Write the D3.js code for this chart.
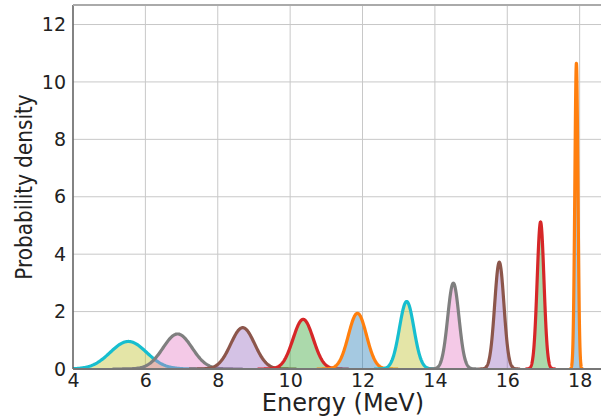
<!DOCTYPE html>
<html>
<head>
<meta charset="utf-8">
<script src="https://cdn.jsdelivr.net/npm/d3@7"></script>
<style>
  body { margin: 0; background: #fff; }
  text { font-family: "DejaVu Sans", sans-serif; fill: #222; }
</style>
</head>
<body>
<div id="chart"></div>
<script>
// peak centres (MeV), peak heights, widths and colours
var peakEnergy = [5.53, 6.89, 8.69, 10.36, 11.86, 13.22, 14.51, 15.78, 16.92, 17.91];
var peakHeight = [0.96, 1.22, 1.44, 1.73, 1.94, 2.35, 2.99, 3.72, 5.12, 10.65];
var peakWidth = [0.50, 0.40, 0.33, 0.28, 0.25, 0.20, 0.155, 0.128, 0.094, 0.043];
var lineColors = ["#17becf", "#7f7f7f", "#8c564b", "#d62728", "#ff7f0e",
                  "#17becf", "#7f7f7f", "#8c564b", "#d62728", "#ff7f0e"];
var fillColors = ["#bcbd22", "#e377c2", "#9467bd", "#2ca02c", "#1f77b4",
                  "#bcbd22", "#e377c2", "#9467bd", "#2ca02c", "#1f77b4"];
var xTicks = [4, 6, 8, 10, 12, 14, 16, 18];
var yTicks = [0, 2, 4, 6, 8, 10, 12];

var width = 601, height = 417;
var margin = { top: 5, right: 0, bottom: 48, left: 73 };

var x = d3.scaleLinear().domain([4, 18.59]).range([margin.left, width - margin.right]);
var y = d3.scaleLinear().domain([0, 12.68]).range([height - margin.bottom, margin.top]);

var svg = d3.select("#chart")
    .append("svg")
    .attr("width", width)
    .attr("height", height);

svg.append("defs").append("clipPath")
    .attr("id", "plot")
    .append("rect")
    .attr("x", margin.left)
    .attr("y", margin.top)
    .attr("width", width - margin.left - margin.right)
    .attr("height", height - margin.top - margin.bottom);

// grid
svg.append("g")
    .selectAll("line")
    .data(xTicks)
    .enter()
    .append("line")
    .attr("x1", function (d) { return x(d); })
    .attr("x2", function (d) { return x(d); })
    .attr("y1", y.range()[0])
    .attr("y2", y.range()[1])
    .style("stroke", "#c8c8c8")
    .style("stroke-width", 1);

svg.append("g")
    .selectAll("line")
    .data(yTicks)
    .enter()
    .append("line")
    .attr("x1", x.range()[0])
    .attr("x2", x.range()[1])
    .attr("y1", function (d) { return y(d); })
    .attr("y2", function (d) { return y(d); })
    .style("stroke", "#c8c8c8")
    .style("stroke-width", 1);

// bell shape through each peak, using the read-off centre, height and width
function curve(i) {
    var mu = peakEnergy[i], h = peakHeight[i], s = peakWidth[i];
    return d3.range(-4.5, 4.5001, 0.05).map(function (k) {
        return [mu + k * s, h * Math.exp(-0.5 * k * k)];
    });
}

var area = d3.area()
    .x(function (d) { return x(d[0]); })
    .y0(y(0))
    .y1(function (d) { return y(d[1]); });

var line = d3.line()
    .x(function (d) { return x(d[0]); })
    .y(function (d) { return y(d[1]); });

var plot = svg.append("g").attr("clip-path", "url(#plot)");

peakEnergy.forEach(function (mu, i) {
    var pts = curve(i);
    plot.append("path")
        .attr("d", area(pts))
        .style("fill", fillColors[i])
        .style("fill-opacity", 0.4);
    plot.append("path")
        .attr("d", line(pts))
        .style("fill", "none")
        .style("stroke", lineColors[i])
        .style("stroke-width", 3.2)
        .style("stroke-linejoin", "round");
});

// spines
svg.append("line")
    .attr("x1", x.range()[0]).attr("x2", x.range()[0])
    .attr("y1", y.range()[0]).attr("y2", y.range()[1])
    .style("stroke", "#444").style("stroke-width", 1.2);
svg.append("line")
    .attr("x1", x.range()[0]).attr("x2", x.range()[1])
    .attr("y1", y.range()[1]).attr("y2", y.range()[1])
    .style("stroke", "#aaa").style("stroke-width", 2);
svg.append("line")
    .attr("x1", x.range()[0]).attr("x2", x.range()[1])
    .attr("y1", y(0)).attr("y2", y(0))
    .style("stroke", "#777").style("stroke-width", 2);

// axes
var xAxis = svg.append("g")
    .attr("transform", "translate(0," + y(0) + ")")
    .call(d3.axisBottom(x).tickValues(xTicks).tickSize(0).tickPadding(4));
xAxis.select(".domain").remove();
xAxis.selectAll("text").style("font-size", "19px").style("fill", "#222");

var yAxis = svg.append("g")
    .attr("transform", "translate(" + x(4) + ",0)")
    .call(d3.axisLeft(y).tickValues(yTicks).tickSize(0).tickPadding(7));
yAxis.select(".domain").remove();
yAxis.selectAll("text").style("font-size", "19px").style("fill", "#222");

// axis labels
svg.append("text")
    .attr("x", 343)
    .attr("y", 411)
    .attr("text-anchor", "middle")
    .style("font-size", "24px")
    .text("Energy (MeV)");

svg.append("text")
    .attr("transform", "translate(32," + (y.range()[0] + y.range()[1]) / 2 + ") rotate(-90) scale(1,1.12)")
    .attr("text-anchor", "middle")
    .style("font-size", "20px")
    .text("Probability density");
</script>
</body>
</html>
